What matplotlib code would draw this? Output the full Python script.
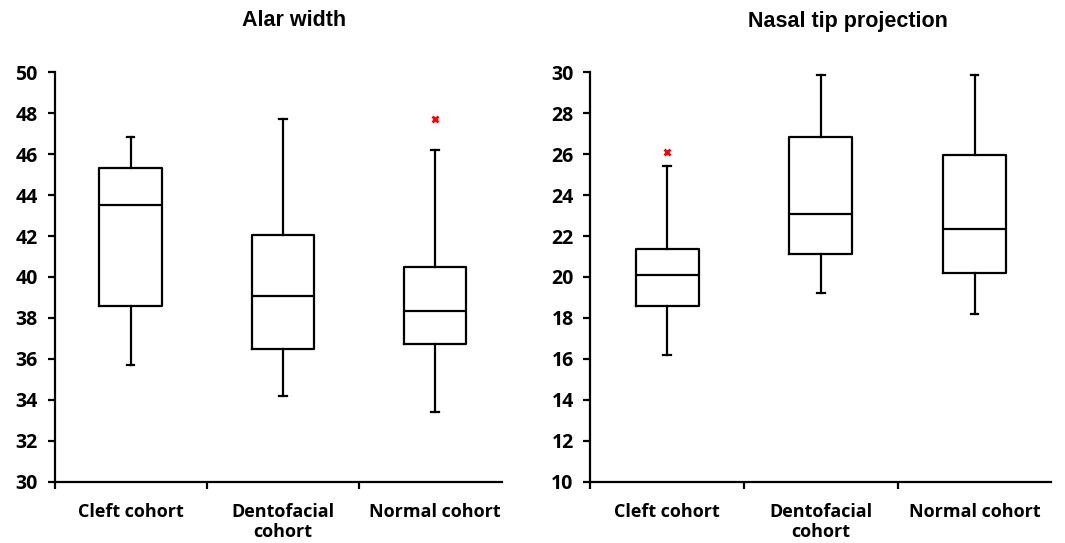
import matplotlib.pyplot as plt

# ---- data ----
cohorts = ['Cleft cohort', 'Dentofacial\ncohort', 'Normal cohort']

alar_low = [35.7, 34.2, 33.4]
alar_q1 = [38.6, 36.5, 36.75]
alar_med = [43.5, 39.05, 38.35]
alar_q3 = [45.3, 42.05, 40.5]
alar_high = [46.85, 47.7, 46.2]
alar_out = [[], [], [47.7]]

tip_low = [16.2, 19.2, 18.2]
tip_q1 = [18.6, 21.1, 20.2]
tip_med = [20.1, 23.1, 22.35]
tip_q3 = [21.35, 26.85, 25.95]
tip_high = [25.4, 29.85, 29.85]
tip_out = [[26.1], [], []]

plt.rcParams['font.family'] = ['Open Sans', 'DejaVu Sans']
plt.rcParams['font.weight'] = 'bold'


def make_stats(low, q1, med, q3, high, out):
    return [dict(whislo=a, q1=b, med=c, q3=d, whishi=e, fliers=f)
            for a, b, c, d, e, f in zip(low, q1, med, q3, high, out)]


fig = plt.figure(figsize=(10.65, 5.43), dpi=100)
ax1 = fig.add_axes([0.0512, 0.1129, 0.4202, 0.754])
ax2 = fig.add_axes([0.5543, 0.1129, 0.4330, 0.754])

lw = 1.6
box_style = dict(color='black', linewidth=lw)
flier_style = dict(marker='x', markeredgecolor='red', markersize=5, markeredgewidth=2)

panels = [
    (ax1, make_stats(alar_low, alar_q1, alar_med, alar_q3, alar_high, alar_out), (30, 50), 3.44),
    (ax2, make_stats(tip_low, tip_q1, tip_med, tip_q3, tip_high, tip_out), (10, 30), 3.5),
]

for ax, stats, ylim, xmax in panels:
    ax.bxp(stats, positions=[1, 2, 3], widths=0.41, capwidths=0.05,
           boxprops=box_style, medianprops=box_style,
           whiskerprops=box_style, capprops=box_style,
           flierprops=flier_style)
    ax.set_ylim(*ylim)
    ax.set_yticks(range(ylim[0], ylim[1] + 1, 2))
    ax.set_xlim(0.5, xmax)
    ax.set_xticks([1, 2, 3])
    ax.set_xticklabels(cohorts, fontsize=13, fontweight='bold', va='top', linespacing=1.2)
    ax.set_xticks([0.5, 1.5, 2.5], minor=True)
    ax.tick_params(axis='x', which='major', length=0, pad=15)
    ax.tick_params(axis='x', which='minor', length=5, width=lw, direction='out')
    ax.tick_params(axis='y', length=5, width=lw, direction='out', labelsize=14, pad=7)
    for lab in ax.get_yticklabels():
        lab.set_fontweight('bold')
    for s in ['top', 'right']:
        ax.spines[s].set_visible(False)
    for s in ['left', 'bottom']:
        ax.spines[s].set_linewidth(lw)

title_font = ['Liberation Sans', 'DejaVu Sans']
fig.text(294 / 1065, 1 - 21 / 543, 'Alar width', ha='center', va='center',
         fontsize=15.5, fontweight='bold', family=title_font)
fig.text(848 / 1065, 1 - 21 / 543, 'Nasal tip projection', ha='center', va='center',
         fontsize=15.5, fontweight='bold', family=title_font)

fig.savefig('out.png', dpi=100)
